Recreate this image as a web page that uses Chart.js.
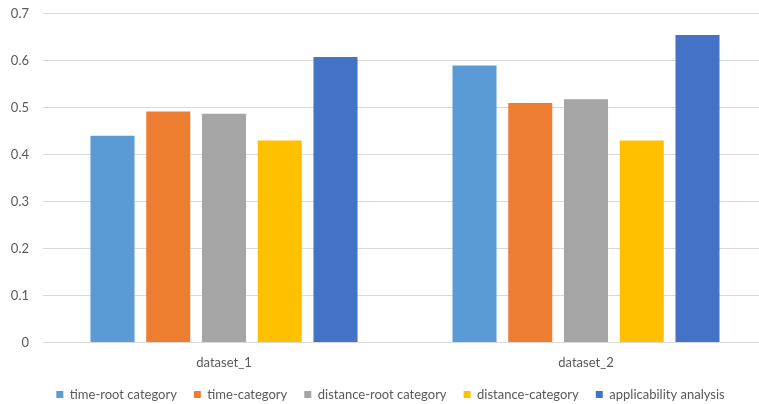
<!DOCTYPE html>
<html>
<head>
<meta charset="utf-8">
<script src="https://cdn.jsdelivr.net/npm/chart.js@4/dist/chart.umd.min.js"></script>
<style>
  html, body { margin: 0; padding: 0; background: #fff; overflow: hidden; }
  #wrap { position: relative; width: 768px; height: 412px; margin-top: -8px; }
</style>
</head>
<body>
<div id="wrap"><canvas id="c"></canvas></div>
<script>
const categories = ['dataset_1', 'dataset_2'];
const seriesNames = ['time-root category', 'time-category', 'distance-root category', 'distance-category', 'applicability analysis'];
const timeRoot = [0.44, 0.59];
const timeCat = [0.492, 0.51];
const distRoot = [0.487, 0.518];
const distCat = [0.43, 0.43];
const applicability = [0.608, 0.655];
const yTicks = [0, 0.1, 0.2, 0.3, 0.4, 0.5, 0.6, 0.7];

const colors = ['#5B9BD5', '#ED7D31', '#A5A5A5', '#FFC000', '#4472C4'];
const values = [timeRoot, timeCat, distRoot, distCat, applicability];

const textColor = '#595959';
const font = { family: 'Lato, "Liberation Sans", sans-serif', size: 13 };

// nudge the bottom legend a little right and up from its default slot
const legendShift = {
  id: 'legendShift',
  afterLayout(chart) {
    const lg = chart.legend;
    if (lg) {
      lg.left += 7; lg.right += 7;
      lg.top -= 5; lg.bottom -= 5;
    }
  }
};

new Chart(document.getElementById('c'), {
  type: 'bar',
  data: {
    labels: categories,
    datasets: seriesNames.map((name, i) => ({
      label: name,
      data: values[i],
      backgroundColor: colors[i],
      borderWidth: 0,
      categoryPercentage: 0.77,
      barPercentage: 0.79
    }))
  },
  plugins: [legendShift],
  options: {
    responsive: true,
    maintainAspectRatio: false,
    animation: false,
    layout: { padding: { top: 0, right: 1, left: 0, bottom: -12 } },
    plugins: {
      tooltip: { enabled: false },
      legend: {
        position: 'bottom',
        labels: {
          boxWidth: 7,
          boxHeight: 7,
          padding: 17,
          color: textColor,
          font: font
        }
      }
    },
    scales: {
      x: {
        grid: { display: false },
        border: { display: true, color: '#D9D9D9', width: 1 },
        ticks: { color: textColor, font: font, padding: 5 }
      },
      y: {
        min: 0,
        max: 0.7,
        afterBuildTicks: (scale) => { scale.ticks = yTicks.map(v => ({ value: v })); },
        afterFit: (scale) => { scale.width = 43; },
        grid: { color: '#D9D9D9', lineWidth: 1, drawTicks: false },
        border: { display: false },
        ticks: {
          color: textColor,
          font: font,
          padding: 14,
          callback: (v) => String(Number(v.toFixed(1)))
        }
      }
    }
  }
});
</script>
</body>
</html>
